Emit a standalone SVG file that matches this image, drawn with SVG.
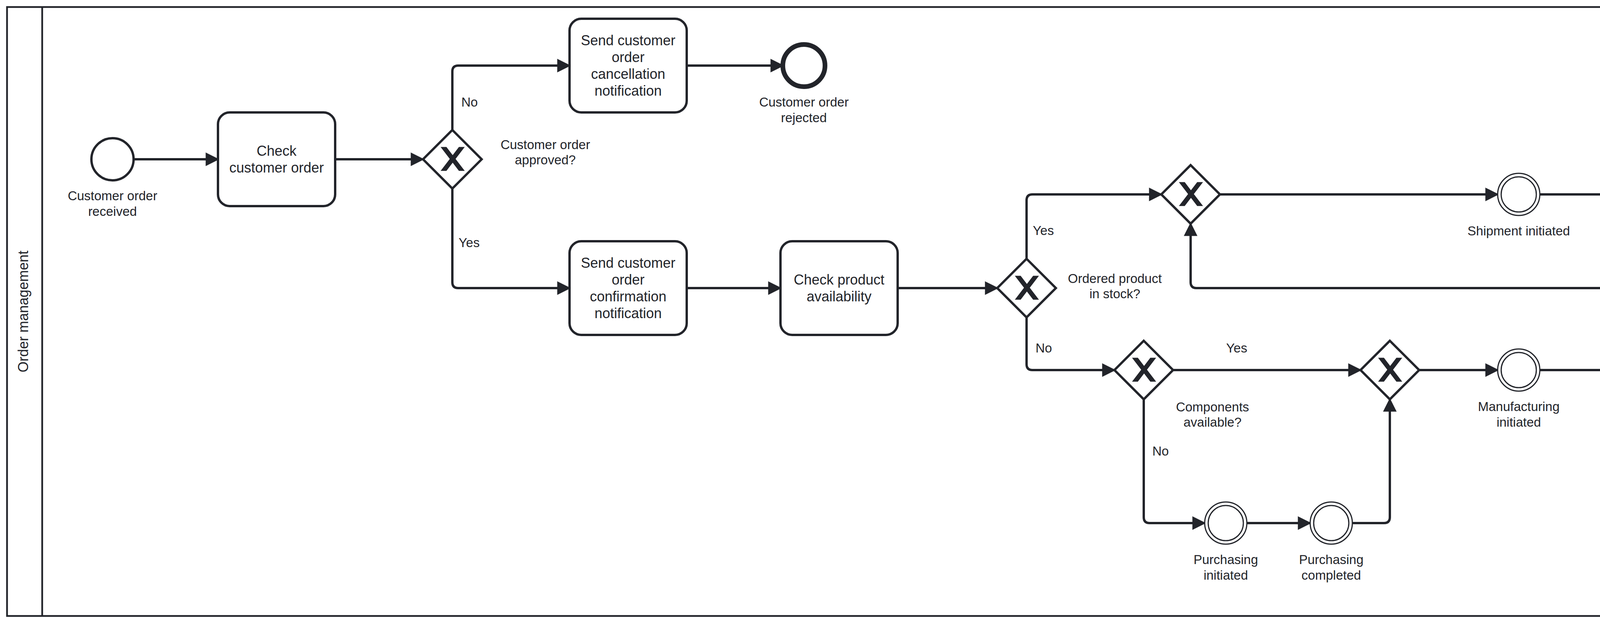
<svg xmlns="http://www.w3.org/2000/svg" xmlns:xlink="http://www.w3.org/1999/xlink" width="5586" height="1596" viewBox="0 0 5586 1596">
<style>
.pool{fill:#ffffff;stroke:#22242a;stroke-width:4.5}
.task{fill:#ffffff;stroke:#22242a;stroke-width:6}
.gw{fill:#ffffff;stroke:#22242a;stroke-width:6;stroke-linejoin:miter}
.xm{fill:#22242a;stroke:#22242a;stroke-width:3}
.start{fill:#ffffff;stroke:#22242a;stroke-width:6}
.end{fill:#ffffff;stroke:#22242a;stroke-width:12}
.inter{fill:#ffffff;stroke:#22242a;stroke-width:3}
.flow{fill:none;stroke:#22242a;stroke-width:6;stroke-linejoin:round;marker-end:url(#arrow)}
text{font-family:"Liberation Sans",Arial,sans-serif;fill:#22242a;text-anchor:middle}
.tt{font-size:36px}
.lt{font-size:33px}
</style>
<defs>
<marker id="arrow" viewBox="0 0 20 20" markerUnits="userSpaceOnUse" markerWidth="60" markerHeight="60" refX="11" refY="10" orient="auto">
<path d="M 1 5 L 11 10 L 1 15 Z" fill="#22242a" stroke="#22242a" stroke-width="1"/>
</marker>
<path id="xmark" class="xm" d="M-27,-30 L-4.71,-0.86 L-27,28.29 L-15.86,28.29 L0.86,6.43 L17.57,28.29 L28.71,28.29 L6.43,-0.86 L28.71,-30 L17.57,-30 L0.86,-8.14 L-15.86,-30 Z"/>
</defs>
<rect width="5586" height="1596" fill="#ffffff"/>
<g id="pool">
<rect class="pool" x="18" y="18" width="5550" height="1560"/>
<line x1="108" y1="18" x2="108" y2="1578" stroke="#22242a" stroke-width="4.5"/>
<text class="tt" transform="translate(72,798) rotate(-90)">Order management</text>
</g>
<g id="connectors">
<path class="flow" d="M342,408 L558,408"/>
<path class="flow" d="M858,408 L1083,408"/>
<path class="flow" d="M1158,333 L1158,183 Q1158,168 1173,168 L1458,168"/>
<path class="flow" d="M1758,168 L2004,168"/>
<path class="flow" d="M1158,483 L1158,723 Q1158,738 1173,738 L1458,738"/>
<path class="flow" d="M1758,738 L1998,738"/>
<path class="flow" d="M2298,738 L2553,738"/>
<path class="flow" d="M2628,663 L2628,513 Q2628,498 2643,498 L2973,498"/>
<path class="flow" d="M2628,813 L2628,933 Q2628,948 2643,948 L2853,948"/>
<path class="flow" d="M3123,498 L3834,498"/>
<path class="flow" d="M3942,498 L4284,498"/>
<path class="flow" d="M4392,498 L4638,498"/>
<path class="flow" d="M4938,498 L5214,498"/>
<path class="flow" d="M3003,948 L3483,948"/>
<path class="flow" d="M2928,1023 L2928,1325 Q2928,1340 2943,1340 L3084,1340"/>
<path class="flow" d="M3192,1340 L3354,1340"/>
<path class="flow" d="M3462,1340 L3543,1340 Q3558,1340 3558,1325 L3558,1023"/>
<path class="flow" d="M3633,948 L3834,948"/>
<path class="flow" d="M3942,948 L4284,948"/>
<path class="flow" d="M4338,894 L4338,753 Q4338,738 4323,738 L3063,738 Q3048,738 3048,723 L3048,573"/>
<text class="lt" x="1202" y="273">No</text>
<text class="lt" x="1201" y="633">Yes</text>
<text class="lt" x="2671" y="602">Yes</text>
<text class="lt" x="2672" y="903">No</text>
<text class="lt" x="3166" y="903">Yes</text>
<text class="lt" x="2971" y="1167">No</text>
</g>
<g id="start_received">
<circle class="start" cx="288" cy="408" r="54"/>
<text class="lt" x="288" y="513">Customer order</text>
<text class="lt" x="288" y="553">received</text>
</g>
<g id="task_check_order">
<rect class="task" x="558" y="288" width="300" height="240" rx="30" ry="30"/>
<text class="tt" x="708" y="399">Check</text>
<text class="tt" x="708" y="442">customer order</text>
</g>
<g id="gw_approved">
<polygon class="gw" points="1158,333 1233,408 1158,483 1083,408"/>
<use xlink:href="#xmark" x="1158" y="408"/>
<text class="lt" x="1396" y="382">Customer order</text>
<text class="lt" x="1396" y="421">approved?</text>
</g>
<g id="task_cancel">
<rect class="task" x="1458" y="48" width="300" height="240" rx="30" ry="30"/>
<text class="tt" x="1608" y="116">Send customer</text>
<text class="tt" x="1608" y="159">order</text>
<text class="tt" x="1608" y="202">cancellation</text>
<text class="tt" x="1608" y="245">notification</text>
</g>
<g id="end_rejected">
<circle class="end" cx="2058" cy="168" r="54"/>
<text class="lt" x="2058" y="273">Customer order</text>
<text class="lt" x="2058" y="313">rejected</text>
</g>
<g id="task_confirm">
<rect class="task" x="1458" y="618" width="300" height="240" rx="30" ry="30"/>
<text class="tt" x="1608" y="686">Send customer</text>
<text class="tt" x="1608" y="729">order</text>
<text class="tt" x="1608" y="772">confirmation</text>
<text class="tt" x="1608" y="815">notification</text>
</g>
<g id="task_check_product">
<rect class="task" x="1998" y="618" width="300" height="240" rx="30" ry="30"/>
<text class="tt" x="2148" y="729">Check product</text>
<text class="tt" x="2148" y="772">availability</text>
</g>
<g id="gw_in_stock">
<polygon class="gw" points="2628,663 2703,738 2628,813 2553,738"/>
<use xlink:href="#xmark" x="2628" y="738"/>
<text class="lt" x="2854" y="725">Ordered product</text>
<text class="lt" x="2854" y="764">in stock?</text>
</g>
<g id="gw_merge_ship">
<polygon class="gw" points="3048,423 3123,498 3048,573 2973,498"/>
<use xlink:href="#xmark" x="3048" y="498"/>
</g>
<g id="ev_shipment_initiated">
<circle class="inter" cx="3888" cy="498" r="54"/>
<circle class="inter" cx="3888" cy="498" r="45"/>
<text class="lt" x="3888" y="603">Shipment initiated</text>
</g>
<g id="ev_shipment_completed">
<circle class="inter" cx="4338" cy="498" r="54"/>
<circle class="inter" cx="4338" cy="498" r="45"/>
<text class="lt" x="4338" y="603">Shipment</text>
<text class="lt" x="4338" y="643">completed</text>
</g>
<g id="task_completion">
<rect class="task" x="4638" y="378" width="300" height="240" rx="30" ry="30"/>
<text class="tt" x="4788" y="467">Send customer</text>
<text class="tt" x="4788" y="511">completion</text>
<text class="tt" x="4788" y="554">notification</text>
</g>
<g id="end_completed">
<circle class="end" cx="5268" cy="498" r="54"/>
<text class="lt" x="5268" y="603">Customer order</text>
<text class="lt" x="5268" y="643">completed</text>
</g>
<g id="gw_components">
<polygon class="gw" points="2928,873 3003,948 2928,1023 2853,948"/>
<use xlink:href="#xmark" x="2928" y="948"/>
<text class="lt" x="3104" y="1054">Components</text>
<text class="lt" x="3104" y="1093">available?</text>
</g>
<g id="gw_merge_mfg">
<polygon class="gw" points="3558,873 3633,948 3558,1023 3483,948"/>
<use xlink:href="#xmark" x="3558" y="948"/>
</g>
<g id="ev_purchasing_initiated">
<circle class="inter" cx="3138" cy="1340" r="54"/>
<circle class="inter" cx="3138" cy="1340" r="45"/>
<text class="lt" x="3138" y="1445">Purchasing</text>
<text class="lt" x="3138" y="1485">initiated</text>
</g>
<g id="ev_purchasing_completed">
<circle class="inter" cx="3408" cy="1340" r="54"/>
<circle class="inter" cx="3408" cy="1340" r="45"/>
<text class="lt" x="3408" y="1445">Purchasing</text>
<text class="lt" x="3408" y="1485">completed</text>
</g>
<g id="ev_mfg_initiated">
<circle class="inter" cx="3888" cy="948" r="54"/>
<circle class="inter" cx="3888" cy="948" r="45"/>
<text class="lt" x="3888" y="1053">Manufacturing</text>
<text class="lt" x="3888" y="1093">initiated</text>
</g>
<g id="ev_mfg_completed">
<circle class="inter" cx="4338" cy="948" r="54"/>
<circle class="inter" cx="4338" cy="948" r="45"/>
<text class="lt" x="4338" y="1053">Manufacturing</text>
<text class="lt" x="4338" y="1093">completed</text>
</g>
</svg>
